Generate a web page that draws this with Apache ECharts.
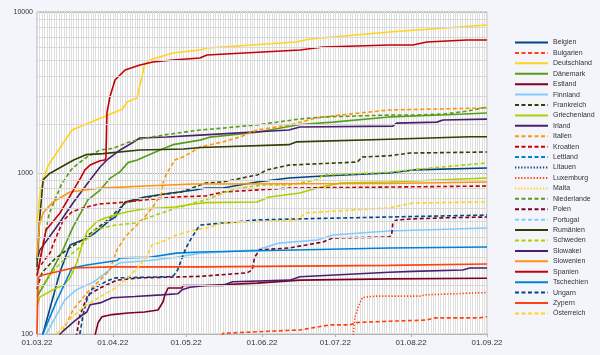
<!DOCTYPE html>
<html><head><meta charset="utf-8">
<script src="https://cdn.jsdelivr.net/npm/echarts@6/dist/echarts.min.js"></script>
<style>html,body{margin:0;padding:0;background:#f3f5fa}#c{width:600px;height:355px}</style>
</head><body><div id="c"></div>
<script>
// x values: days since 01.03.22
const tickDays = [0, 31, 61, 92, 122, 153, 184];
const tickLabels = ['01.03.22', '01.04.22', '01.05.22', '01.06.22', '01.07.22', '01.08.22', '01.09.22'];
const minorGrid = [200, 300, 400, 500, 600, 700, 800, 900, 2000, 3000, 4000, 5000, 6000, 7000, 8000, 9000];

const belgien = [[2.4,100],[9.4,243],[13.5,357],[20,390],[23.7,424],[30,511],[32,533],[36,661],[44,710],[55,752],[64.6,784],[69,806],[76,806],[90,880],[103,930],[117,957],[144,1000],[154,1045],[184,1075]];
const bulgarien = [[75.5,98],[76,101],[107.5,106],[120,114],[128,114],[131,118],[144,120],[159,122],[163,126],[181,126],[184,128]];
const deutschland = [[0,490],[1,700],[2.4,900],[4.5,1110],[14.3,1849],[35,2498],[36.8,2762],[40.9,2924],[44,4690],[46,5035],[55.6,5560],[66.6,5810],[69.5,5975],[106,6515],[111.6,6795],[144,7515],[184,8300]];
const daenemark = [[0,170],[5,230],[10.6,333],[14.7,461],[20.8,680],[25.8,784],[30,930],[34,1020],[37.2,1160],[41,1205],[50.3,1390],[55.6,1500],[66.6,1600],[70.7,1670],[90,1790],[107.5,2000],[121,2070],[144,2230],[167.6,2300],[184,2360]];
const estland = [[23.5,95],[25,118],[26.6,128],[30.7,132],[37.2,135],[44,137],[49.5,141],[51.5,158],[52.3,175],[53.6,193],[59.3,193],[59.7,200],[69,200],[90,207],[107.5,216],[144,220],[184,222]];
const finnland = [[3,95],[11.4,163],[16,188],[23,210],[27,232],[31,261],[34,277],[46,286],[57,300],[67,318],[90,333],[99,367],[114.5,384],[121,412],[135,427],[144,436],[184,455]];
const frankreich = [[0,190],[2,240],[7,290],[13,340],[17,370],[20,400],[23.7,443],[29.8,525],[36,651],[44,700],[51,735],[59,762],[69,867],[76,880],[90,972],[94,1045],[103,1120],[131,1170],[133,1256],[144,1280],[152.5,1330],[184,1350]];
const griechenland = [[0,150],[1.2,170],[8,193],[10.6,200],[13.5,223],[16.4,280],[18.4,357],[20.4,432],[24.5,500],[27.8,525],[32,548],[37,574],[44,600],[51,607],[56.4,615],[63.4,640],[69,655],[90,661],[95,710],[107.5,752],[114.5,806],[124,867],[144,880],[184,930]];
const irland = [[0,290],[1.2,333],[8,462],[14.7,651],[21.7,906],[25.8,1090],[28.6,1205],[34,1390],[39,1540],[42,1650],[53,1675],[66.6,1720],[103,1849],[107.5,1930],[145.5,1955],[147,2040],[163.5,2070],[166,2134],[184,2160]];
const italien = [[9.5,95],[10.2,101],[14.7,141],[20.4,180],[25.8,216],[29.8,250],[32.7,333],[36,400],[40,462],[44,533],[47.4,615],[51,752],[51.5,867],[53.1,1000],[56.4,1205],[59.7,1256],[62.6,1330],[66.6,1450],[76,1560],[83,1675],[90,1849],[103.4,1990],[114.5,2200],[124,2290],[144,2462],[153.7,2480],[184,2535]];
const kroatien = [[0,250],[5.3,318],[6.5,357],[10.6,503],[14.3,574],[18.8,607],[25.8,643],[32,651],[44,680],[56.4,710],[69,720],[76,762],[103,806],[144,818],[184,830]];
const lettland = [];
const litauen = [];
const luxemburg = [[129,90],[130,128],[132,156],[133,168],[135,170],[139,172],[156.6,172],[158.6,175],[184,181]];
const malta = [];
const niederlande = [[0,230],[2,330],[5,560],[10,850],[14,1050],[17,1150],[20.4,1256],[25.8,1390],[31,1420],[36.8,1540],[42,1620],[51.5,1720],[59.7,1790],[66.6,1849],[76,1900],[90,1990],[107.5,2165],[117,2230],[144,2290],[155,2290],[167,2330],[175.8,2420],[184,2560]];
const polen = [[16,95],[17.6,131],[20.8,175],[25.8,193],[32.7,216],[42,223],[66.6,228],[86,240],[88,250],[89,300],[91,333],[103,342],[117,373],[121,395],[144,400],[145,412],[145.5,489],[147,511],[153.7,519],[167.6,527],[184,533]];
const portugal = [];
const rumaenien = [[0,260],[1,500],[2.5,906],[5,990],[15,1205],[20,1300],[27,1320],[42,1390],[60,1410],[67,1440],[103,1500],[106,1560],[144,1620],[177,1680],[184,1680]];
const schweden = [[0,180],[5,230],[10,280],[17,340],[23.7,443],[32,475],[40,489],[45,525],[51,565],[57.6,607],[64.6,655],[69,680],[76,752],[83,806],[92,842],[103,842],[114.5,906],[117,972],[144,1010],[152.5,1045],[184,1155]];
const slowakei = [[9,95],[9.4,100],[14.7,118],[17.6,128],[20.4,137],[21.7,152],[25.8,156],[30.7,168],[40,171],[51,175],[57.6,178],[59.3,188],[62.6,195],[69,200],[76,200],[80,211],[103.4,216],[107.5,227],[144,242],[153.7,245],[174,250],[177,257],[184,257]];
const slowenien = [[0,300],[1,480],[2.5,565],[6.5,661],[13.5,762],[26,806],[44,830],[64,855],[69,855],[144,860],[184,880]];
const spanien = [[0,230],[3.7,443],[9.4,565],[13.5,720],[17.6,920],[19.6,1045],[21.7,1120],[25.8,1190],[27.8,1205],[28.2,1250],[28.6,2360],[29.8,2965],[31.9,3784],[36,4365],[42.1,4690],[47.4,4890],[55.6,5035],[66.6,5180],[69.5,5410],[107.5,5810],[117,6060],[144.3,6240],[153.7,6240],[159.4,6515],[175.8,6700],[184,6700]];
const tschechien = [[2,95],[2.4,100],[8,160],[14.3,257],[20.4,268],[28.6,280],[32.7,286],[34,297],[46,300],[57,318],[66.6,323],[144,342],[184,347]];
const ungarn = [[17.5,100],[19,135],[20.5,165],[22.5,190],[24,195],[29,215],[32,223],[54,227],[56,232],[57.5,250],[59.3,297],[61,345],[63.4,400],[66,460],[67,475],[76,489],[90,511],[107.5,519],[144,533],[184,548]];
const zypern = [[0,100],[0.5,225],[2,232],[14.7,257],[30,261],[67,261],[144,267],[184,272]];
const oesterreich = [[8,100],[14,126],[20,151],[23.7,163],[32,193],[37.2,223],[41,257],[44.6,297],[47,357],[51,373],[57,412],[64.6,443],[69,455],[76,489],[106,511],[110,565],[117,574],[144,607],[153.7,651],[184,661]];

const names = ['Belgien','Bulgarien','Deutschland','Dänemark','Estland','Finnland','Frankreich','Griechenland','Irland','Italien','Kroatien','Lettland','Litauen','Luxemburg','Malta','Niederlande','Polen','Portugal','Rumänien','Schweden','Slowakei','Slowenien','Spanien','Tschechien','Ungarn','Zypern','Österreich'];
const values = [belgien,bulgarien,deutschland,daenemark,estland,finnland,frankreich,griechenland,irland,italien,kroatien,lettland,litauen,luxemburg,malta,niederlande,polen,portugal,rumaenien,schweden,slowakei,slowenien,spanien,tschechien,ungarn,zypern,oesterreich];

const palette = ['#004586','#ff420e','#ffd320','#579d1c','#7e0021','#83caff','#314004','#aecf00','#4b1f6f','#ff950e','#c5000b','#0084d1'];
const dashes = ['solid','dash','solid','solid','solid','solid','dash','solid','solid','dash','dash','dash','dot','dot','dot','dash','dash','dash','solid','dash','solid','solid','solid','solid','dash','solid','dash'];
const dashMap = {solid:'solid', dash:[4,2.5], dot:[1.3,1.8]};

const series = [{
  type:'line', data:[], silent:true, xAxisIndex:0, yAxisIndex:0,
  markLine:{silent:true, symbol:'none', animation:false, label:{show:false},
    lineStyle:{color:'#d8d8d8', type:'solid', width:1},
    data: minorGrid.map(v => ({yAxis:v}))}
}];
names.forEach((n,i) => {
  series.push({
    name:n, type:'line', data: values[i], symbol:'none', xAxisIndex:0, yAxisIndex:0,
    lineStyle:{color: palette[i % 12], width:1.6, type: dashMap[dashes[i]]},
    itemStyle:{color: palette[i % 12]},
    animation:false, clip:true
  });
});

const chart = echarts.init(document.getElementById('c'), null, {renderer:'canvas'});
chart.setOption({
  backgroundColor:'#f3f5fa',
  animation:false,
  textStyle:{fontFamily:'Liberation Sans'},
  grid:{left:37, right:113, top:12, bottom:21, show:true, backgroundColor:'#ffffff', borderColor:'#b3b3b3', borderWidth:1},
  legend:{
    orient:'vertical', left:514, top:39, padding:0,
    itemWidth:33, itemHeight:8, itemGap:3.42,
    data:names,
    itemStyle:{opacity:0},
    textStyle:{fontSize:7, color:'#333', fontFamily:'Liberation Sans'}
  },
  xAxis:[{
    type:'value', min:0, max:184, interval:1,
    axisLine:{show:false}, axisTick:{show:false}, axisLabel:{show:false},
    splitLine:{show:true, lineStyle:{color:'#dedede', width:1}}
  },{
    type:'value', min:0, max:184, position:'bottom',
    axisLine:{show:true, lineStyle:{color:'#b3b3b3'}},
    axisTick:{show:true, customValues:tickDays, length:3, lineStyle:{color:'#b3b3b3'}},
    axisLabel:{show:true, customValues:tickDays, fontSize:8, color:'#333', margin:5,
      formatter: v => tickLabels[tickDays.indexOf(v)]},
    splitLine:{show:false}
  }],
  yAxis:{
    type:'log', logBase:10, min:100, max:10000,
    axisLine:{show:false}, axisTick:{show:false},
    axisLabel:{fontSize:7, color:'#333', margin:4, formatter: v => String(Math.round(v))},
    splitLine:{show:true, lineStyle:{color:'#b3b3b3'}}
  },
  series: series
});
</script></body></html>
